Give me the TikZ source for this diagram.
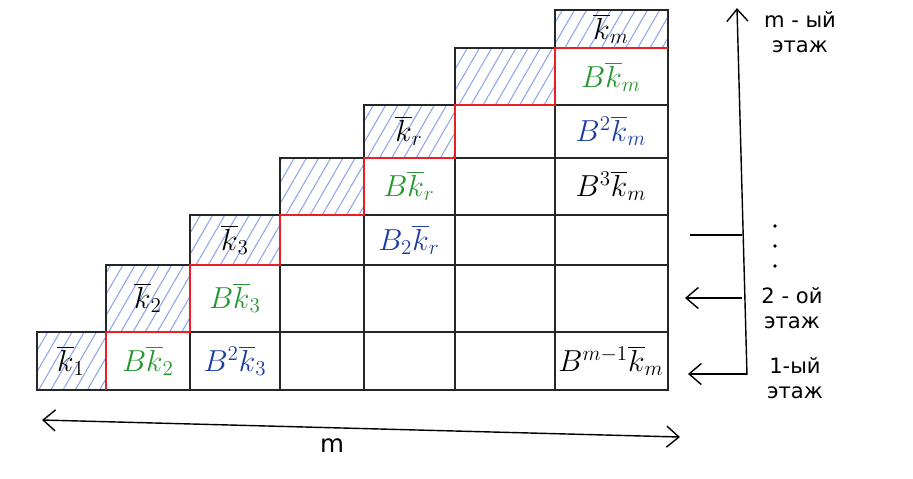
\documentclass[tikz,border=0pt]{standalone}
\usepackage{fontspec}
\newfontfamily\handfont{DejaVu Sans}
\usetikzlibrary{patterns.meta,arrows.meta}
\definecolor{hatchblue}{RGB}{140,165,235}
\definecolor{penred}{RGB}{235,30,35}
\definecolor{pengreen}{RGB}{35,150,45}
\definecolor{penblue}{RGB}{25,60,165}

\begin{document}
\begin{tikzpicture}[
  x=0.02cm, y=-0.02cm,
  every node/.style={font=\fontsize{18}{20}\selectfont, inner sep=1pt},
  grid/.style={draw=black!85, line width=0.8pt},
  hatched/.style={pattern={Lines[angle=60,distance=6pt,line width=0.6pt]}, pattern color=hatchblue},
  stair/.style={draw=penred, line width=1.6pt},
  floor/.style={font=\handfont\fontsize{12}{14}\selectfont, align=center},
  >={Straight Barb[length=7pt,width=12pt]}
]
  \useasboundingbox (0,0) rectangle (913,478);

  % Staircase of cells (column c holds rows 0..c, diagonal hatched)
  \foreach \c/\xa/\xb in {0/37/106, 1/106/190, 2/190/280, 3/280/364, 4/364/455, 5/455/555, 6/555/668}
    \foreach \r/\ya/\yb in {0/390/332, 1/332/265, 2/265/215, 3/215/158, 4/158/105, 5/105/48, 6/48/10}{
      \ifnum\r<\c \draw[grid] (\xa,\ya) rectangle (\xb,\yb); \fi
      \ifnum\r=\c \draw[grid, hatched] (\xa,\ya) rectangle (\xb,\yb); \fi
    }

  % Diagonal keys
  \node (k1) at (71,361) {$\overline{k}_1$};
  \node (k2) at (148,298) {$\overline{k}_2$};
  \node (k3) at (235,240) {$\overline{k}_3$};
  \node (kr) at (409,131) {$\overline{k}_r$};
  \node (km) at (611,29) {$\overline{k}_m$};

  % Products
  \node[text=pengreen] (bk2) at (148,361) {$B\overline{k}_2$};
  \node[text=pengreen] (bk3) at (235,298) {$B\overline{k}_3$};
  \node[text=penblue] (bbk3) at (235,361) {$B^2\overline{k}_3$};
  \node[text=pengreen] (bkr) at (409,186) {$B\overline{k}_r$};
  \node[text=penblue] (b2kr) at (409,240) {$B_2\overline{k}_r$};
  \node[text=pengreen] (bkm) at (611,77) {$B\overline{k}_m$};
  \node[text=penblue] (bbkm) at (611,131) {$B^2\overline{k}_m$};
  \node (bbbkm) at (611,186) {$B^3\overline{k}_m$};
  \node (bmkm) at (611,361) {$B^{m-1}\overline{k}_m$};

  % Red border under the diagonal
  \draw[stair] (106,390) |- (190,332) |- (280,265) |- (364,215) |- (455,158) |- (555,105) |- (668,48);

  % Floors axis
  \coordinate (axbot) at (747,375);
  \coordinate (axtop) at (737,8);
  \coordinate (tick) at (742,235);
  \coordinate (tickend) at (690,235);
  \coordinate (f2) at (742,298);
  \coordinate (f2end) at (685,298);
  \coordinate (f1) at (747,374);
  \coordinate (f1end) at (688,374);
  \draw[->, line width=0.8pt] (axbot) -- (axtop);
  \draw[line width=0.8pt] (tick) -- (tickend);
  \draw[->, line width=0.8pt] (f2) -- (f2end);
  \draw[->, line width=0.8pt] (f1) -- (f1end);
  \node[floor] (floorm) at (800,32) {m - ый\\этаж};
  \node[floor] (floor2) at (792,308) {2 - ой\\этаж};
  \node[floor] (floor1) at (795,378) {1-ый\\этаж};
  \foreach \y in {226,246,266}
    \fill (775,\y) circle (1.1pt);

  % Width
  \coordinate (wl) at (42,420);
  \coordinate (wr) at (680,437);
  \draw[<->, line width=0.8pt] (wl) -- (wr);
  \node[font=\handfont\fontsize{14}{16}\selectfont] (mlabel) at (332,446) {m};
\end{tikzpicture}
\end{document}
